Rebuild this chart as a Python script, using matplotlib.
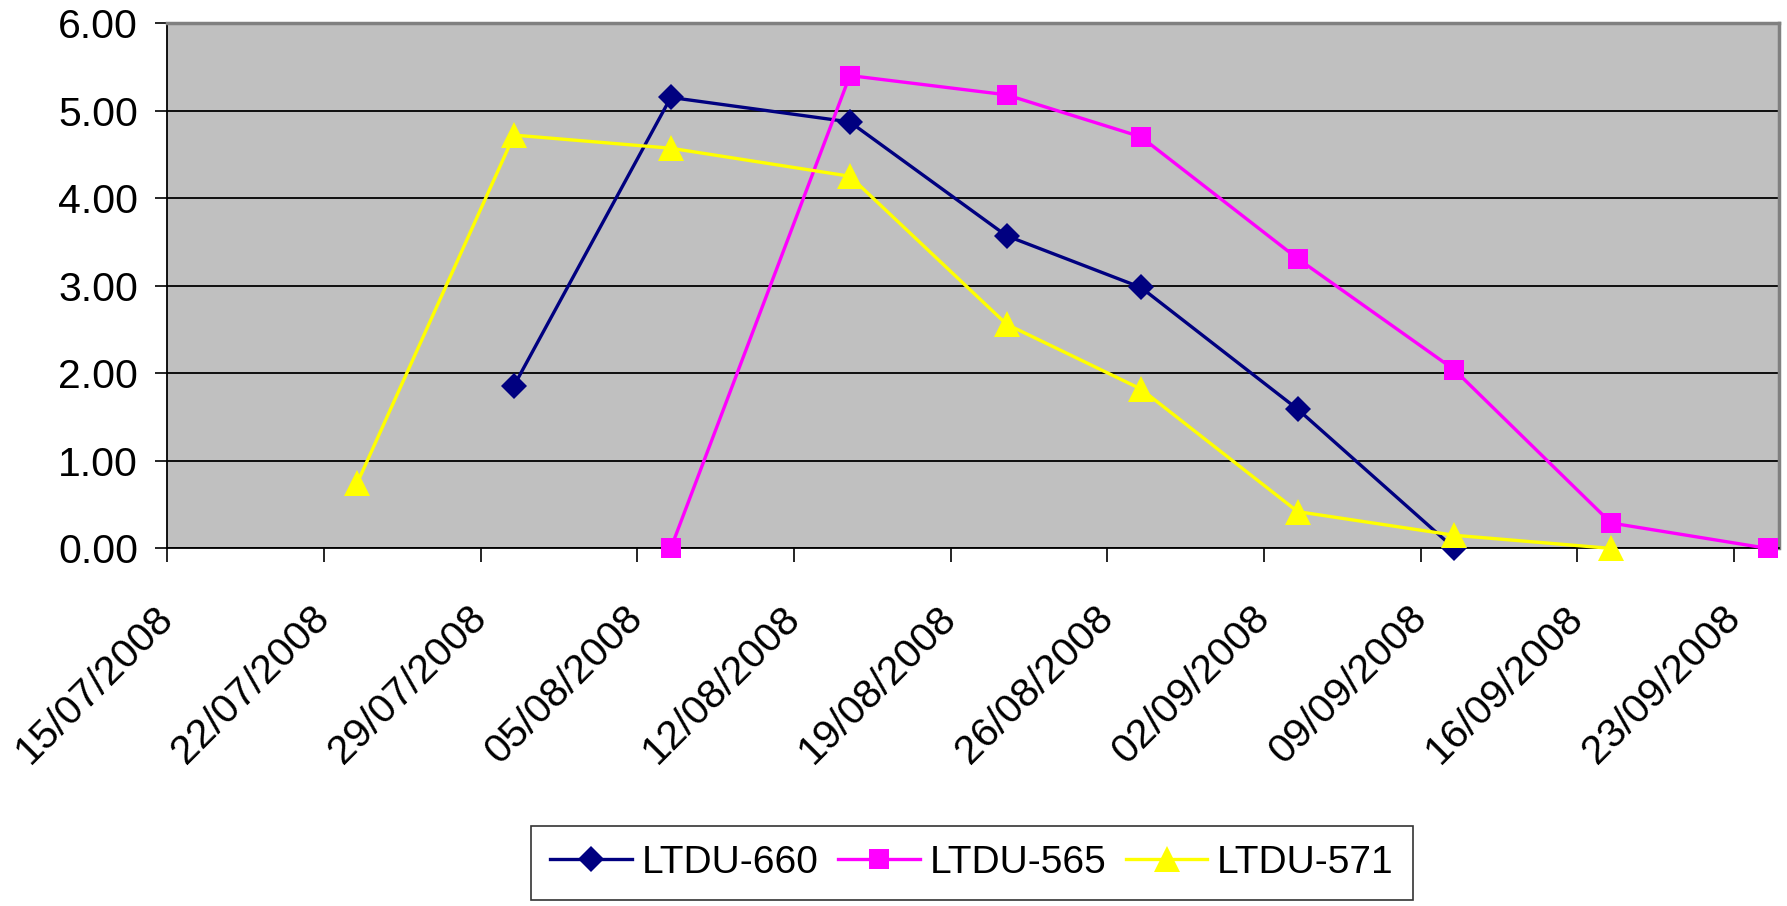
import matplotlib
matplotlib.use("Agg")
import matplotlib.pyplot as plt
import matplotlib.dates as mdates
from datetime import datetime, timedelta

plt.rcParams['font.family'] = ['Liberation Sans', 'DejaVu Sans']

# sample dates (dd/mm/2008) and values per series
dates_660 = ['30/07', '06/08', '14/08', '21/08', '27/08', '03/09', '10/09']
vals_660 = [1.86, 5.15, 4.87, 3.57, 2.98, 1.59, 0.0]

dates_565 = ['06/08', '14/08', '21/08', '27/08', '03/09', '10/09', '17/09', '24/09']
vals_565 = [0.0, 5.40, 5.18, 4.70, 3.31, 2.04, 0.29, 0.0]

dates_571 = ['23/07', '30/07', '06/08', '14/08', '21/08', '27/08', '03/09', '10/09', '17/09']
vals_571 = [0.75, 4.72, 4.57, 4.25, 2.56, 1.82, 0.42, 0.15, 0.0]

tick_dates = ['15/07', '22/07', '29/07', '05/08', '12/08', '19/08', '26/08',
              '02/09', '09/09', '16/09', '23/09']


def to_dt(s, mid=True):
    d = datetime.strptime(s + '/2008', '%d/%m/%Y')
    # excel date axis puts the point in the middle of the day slot
    return d + timedelta(hours=12) if mid else d


fig = plt.figure(figsize=(17.87, 9.06), dpi=100)
ax = fig.add_axes([0.0935, 0.3947, 0.902, 0.5799])
ax.set_facecolor('#C0C0C0')

series = [
    ('LTDU-660', dates_660, vals_660, '#000080', 'D', 13),
    ('LTDU-565', dates_565, vals_565, '#FF00FF', 's', 15),
    ('LTDU-571', dates_571, vals_571, '#FFFF00', '^', 19),
]
for i, (name, ds, vs, col, mk, ms) in enumerate(series):
    ax.plot([to_dt(d) for d in ds], vs, color=col, lw=2.4, marker=mk,
            markersize=ms, markeredgewidth=0, label=name, clip_on=False,
            zorder=3 + i)

ax.set_ylim(0, 6)
ax.set_yticks([0, 1, 2, 3, 4, 5, 6])
ax.yaxis.set_major_formatter(plt.FuncFormatter(lambda v, p: '%.2f' % v))
ax.set_xlim(to_dt('15/07', False), to_dt('25/09', False))
ax.set_xticks([to_dt(d, False) for d in tick_dates])
ax.xaxis.set_major_formatter(mdates.DateFormatter('%d/%m/%Y'))

ax.grid(axis='y', color='black', lw=1.3)
ax.set_axisbelow(True)
for s in ['top', 'right']:
    ax.spines[s].set_color('#808080')
    ax.spines[s].set_linewidth(2.5)
for s in ['left', 'bottom']:
    ax.spines[s].set_color('black')
    ax.spines[s].set_linewidth(1.3)

ax.tick_params(axis='y', labelsize=29.5, length=9, width=1.2, pad=12)
ax.tick_params(axis='x', labelsize=29.5, length=10, width=1.2, pad=36)
for lab in ax.get_xticklabels():
    lab.set_rotation(45)
    lab.set_ha('right')
    lab.set_va('center')
    lab.set_rotation_mode('anchor')

leg = fig.legend(loc='center', bbox_to_anchor=(0.544, 0.0475), ncol=3,
                 fontsize=28, frameon=True, fancybox=False, handlelength=2.1,
                 handletextpad=0.25, columnspacing=0.5, borderpad=0.5)
leg.get_frame().set_edgecolor('black')
leg.get_frame().set_linewidth(1.2)

fig.savefig('out.png', dpi=100)
